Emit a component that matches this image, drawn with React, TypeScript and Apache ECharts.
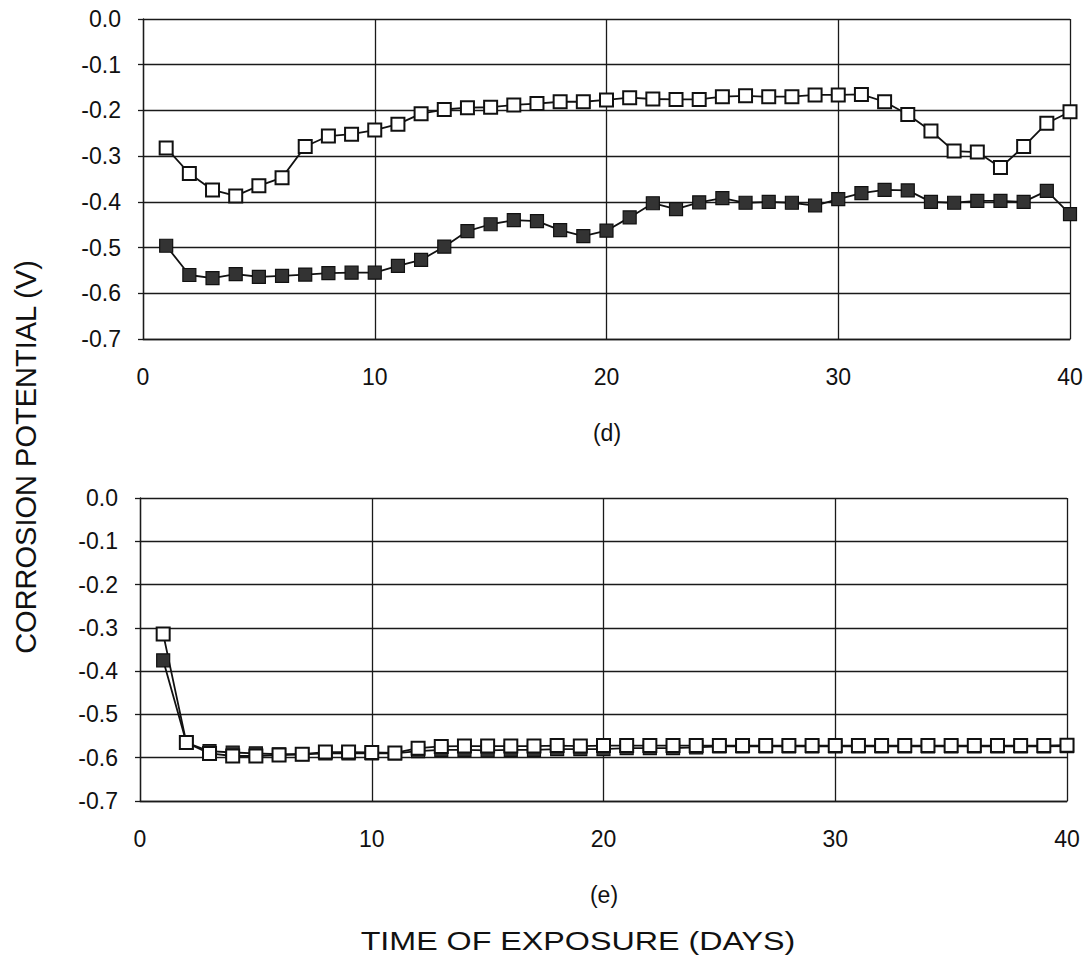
import React, { useEffect, useRef } from "react";
import * as echarts from "echarts";

const days = Array.from({ length: 40 }, (_, i) => i + 1);

const dOpen = [
  -0.282, -0.338, -0.374, -0.387, -0.365, -0.347, -0.279, -0.256, -0.252, -0.243,
  -0.23, -0.207, -0.198, -0.194, -0.193, -0.188, -0.185, -0.181, -0.181, -0.177,
  -0.172, -0.175, -0.176, -0.176, -0.17, -0.168, -0.17, -0.17, -0.166, -0.166,
  -0.165, -0.181, -0.209, -0.245, -0.289, -0.291, -0.325, -0.279, -0.228, -0.203,
];
const dFilled = [
  -0.496, -0.56, -0.567, -0.558, -0.564, -0.562, -0.559, -0.556, -0.555, -0.555,
  -0.54, -0.527, -0.498, -0.464, -0.449, -0.44, -0.442, -0.462, -0.475, -0.463,
  -0.434, -0.403, -0.416, -0.401, -0.392, -0.402, -0.4, -0.402, -0.408, -0.394,
  -0.381, -0.374, -0.375, -0.4, -0.402, -0.398, -0.398, -0.4, -0.376, -0.427,
];
const eOpen = [
  -0.314, -0.565, -0.59, -0.596, -0.596, -0.594, -0.592, -0.587, -0.587, -0.588,
  -0.589, -0.578, -0.574, -0.573, -0.573, -0.573, -0.573, -0.572, -0.573, -0.572,
  -0.572, -0.572, -0.572, -0.572, -0.572, -0.572, -0.572, -0.572, -0.572, -0.572,
  -0.572, -0.572, -0.572, -0.572, -0.572, -0.572, -0.572, -0.572, -0.572, -0.571,
];
const eFilled = [
  -0.375, -0.565, -0.585, -0.588, -0.59, -0.592, -0.592, -0.59, -0.59, -0.59,
  -0.59, -0.585, -0.582, -0.582, -0.583, -0.582, -0.582, -0.58, -0.58, -0.58,
  -0.578, -0.578, -0.578, -0.576, -0.574, -0.574, -0.574, -0.574, -0.574, -0.574,
  -0.574, -0.574, -0.574, -0.574, -0.574, -0.574, -0.574, -0.574, -0.574, -0.573,
];

const panelLabels = ["(d)", "(e)"];
const xTitle = "TIME OF EXPOSURE (DAYS)";
const yTitle = "CORROSION POTENTIAL (V)";

const FONT = "'Liberation Sans', Arial, sans-serif";
const LINE = "#1a1a1a";

function pairs(vals: number[]) {
  return days.map((d, i) => [d, vals[i]]);
}

export default function App() {
  const ref = useRef<HTMLDivElement>(null);
  useEffect(() => {
    document.body.style.margin = "0";
    const chart = echarts.init(ref.current!, null, { renderer: "svg" });
    const xAxisBase = (gi: number) => ({
      type: "value",
      gridIndex: gi,
      min: 0,
      max: 40,
      interval: 10,
      axisLine: { show: true, onZero: false, lineStyle: { color: LINE, width: 1.3 } },
      axisTick: { show: false },
      splitLine: { show: true, lineStyle: { color: LINE, width: 1.3 } },
      axisLabel: { color: "#111", fontSize: 23, fontFamily: FONT, margin: 26 },
    });
    const yAxisBase = (gi: number) => ({
      type: "value",
      gridIndex: gi,
      min: -0.7,
      max: 0,
      interval: 0.1,
      axisLine: { show: true, onZero: false, lineStyle: { color: LINE, width: 1.3 } },
      axisTick: { show: true, length: 5, lineStyle: { color: LINE, width: 1.3 } },
      splitLine: { show: true, lineStyle: { color: LINE, width: 1.3 } },
      axisLabel: {
        color: "#111",
        fontSize: 23,
        fontFamily: FONT,
        margin: 22,
        formatter: (v: number) => (Math.abs(v) < 1e-9 ? "0.0" : v.toFixed(1)),
      },
    });
    const openStyle = {
      symbol: "rect",
      symbolSize: 13,
      itemStyle: { color: "#ffffff", borderColor: "#111", borderWidth: 2 },
      lineStyle: { color: "#111", width: 1.8 },
    };
    const filledStyle = {
      symbol: "rect",
      symbolSize: 13,
      itemStyle: { color: "#333333", borderColor: "#111", borderWidth: 1.2 },
      lineStyle: { color: "#111", width: 1.8 },
    };
    chart.setOption({
      animation: false,
      backgroundColor: "#ffffff",
      grid: [
        { left: 143, right: 19, top: 19, height: 320 },
        { left: 140, right: 22, top: 498, height: 303 },
      ],
      xAxis: [xAxisBase(0), xAxisBase(1)],
      yAxis: [yAxisBase(0), yAxisBase(1)],
      series: [
        { type: "line", name: "d filled", xAxisIndex: 0, yAxisIndex: 0, data: pairs(dFilled), ...filledStyle },
        { type: "line", name: "d open", xAxisIndex: 0, yAxisIndex: 0, data: pairs(dOpen), ...openStyle },
        { type: "line", name: "e filled", xAxisIndex: 1, yAxisIndex: 1, data: pairs(eFilled), ...filledStyle },
        { type: "line", name: "e open", xAxisIndex: 1, yAxisIndex: 1, data: pairs(eOpen), ...openStyle },
      ],
      graphic: [
        {
          type: "text",
          x: 607,
          y: 433,
          style: { text: panelLabels[0], fontSize: 23, fontFamily: FONT, fill: "#111", align: "center", verticalAlign: "middle" },
        },
        {
          type: "text",
          x: 604,
          y: 895,
          style: { text: panelLabels[1], fontSize: 23, fontFamily: FONT, fill: "#111", align: "center", verticalAlign: "middle" },
        },
        {
          type: "text",
          x: 578,
          y: 941,
          scaleX: 1.29,
          style: { text: xTitle, fontSize: 25, fontFamily: FONT, fill: "#111", align: "center", verticalAlign: "middle" },
        },
        {
          type: "text",
          x: 26,
          y: 457,
          rotation: Math.PI / 2,
          style: { text: yTitle, fontSize: 29, fontFamily: FONT, fill: "#111", align: "center", verticalAlign: "middle" },
        },
      ],
    });
    return () => chart.dispose();
  }, []);
  return <div ref={ref} style={{ width: 1089, height: 977 }} />;
}
